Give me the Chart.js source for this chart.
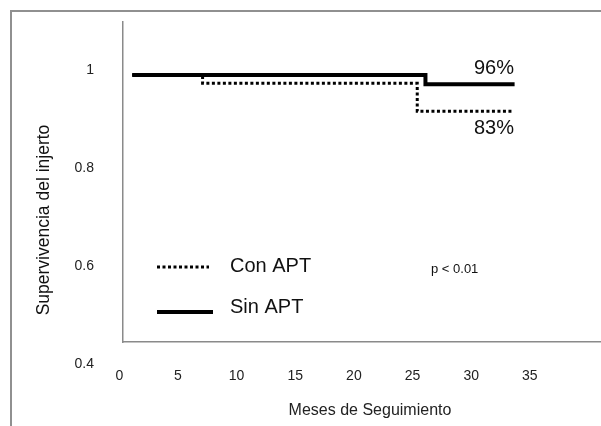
<!DOCTYPE html>
<html>
<head>
<meta charset="utf-8">
<script src="https://cdn.jsdelivr.net/npm/chart.js@4.4.1/dist/chart.umd.min.js"></script>
<style>
  html, body { margin: 0; padding: 0; background: #fff; overflow: hidden; }
  #wrap { position: relative; width: 601px; height: 426px; overflow: hidden; }
  #km { position: absolute; left: 0; top: 0; }
  #frame { position: absolute; left: 10px; top: 10px; width: 700px; height: 500px;
           border: 2px solid #909090; pointer-events: none; }
</style>
</head>
<body>
<div id="wrap">
  <canvas id="km" width="617" height="426"></canvas>
  <div id="frame"></div>
</div>
<script>
// supervivencia del injerto (Kaplan-Meier)
var sinMeses = [1.1, 26.1, 33.7];
var sinSuperv = [0.99, 0.971, 0.971];
var conMeses = [1.1, 7.1, 25.4, 33.5];
var conSuperv = [0.99, 0.973, 0.916, 0.916];

var xTicks = [0, 5, 10, 15, 20, 25, 30, 35];
var yTicks = [0.4, 0.6, 0.8, 1];

var FONT = 'Arial, "Liberation Sans", sans-serif';

function toPoints(xs, ys) {
  return xs.map(function (x, i) { return { x: x, y: ys[i] }; });
}

// textos dentro del gráfico: leyenda, porcentajes, p y título del eje y
var annotations = {
  id: 'annotations',
  afterDraw: function (chart) {
    var ctx = chart.ctx;
    var ds = chart.data.datasets;
    ctx.save();
    ctx.fillStyle = '#111';
    ctx.textBaseline = 'middle';

    // leyenda
    var rows = [{ d: ds[1], y: 267, ty: 266, x2: 209 }, { d: ds[0], y: 312, ty: 307, x2: 213 }];
    rows.forEach(function (r) {
      ctx.beginPath();
      ctx.strokeStyle = r.d.borderColor;
      ctx.lineWidth = r.d.borderWidth;
      ctx.setLineDash(r.d.borderDash || []);
      ctx.moveTo(157, r.y);
      ctx.lineTo(r.x2, r.y);
      ctx.stroke();
      ctx.setLineDash([]);
      ctx.font = '20px ' + FONT;
      ctx.textAlign = 'left';
      ctx.fillText(r.d.label, 230, r.ty);
    });

    ctx.font = '20px ' + FONT;
    ctx.textAlign = 'right';
    ctx.fillText('96%', 514, 68);
    ctx.fillText('83%', 514, 128);

    ctx.font = '13px ' + FONT;
    ctx.textAlign = 'left';
    ctx.fillText('p < 0.01', 431, 269);

    ctx.translate(44, 220);
    ctx.rotate(-Math.PI / 2);
    ctx.font = '17.5px ' + FONT;
    ctx.textAlign = 'center';
    ctx.fillText('Supervivencia del injerto', 0, 0);
    ctx.restore();
  }
};

new Chart(document.getElementById('km').getContext('2d'), {
  type: 'line',
  data: {
    datasets: [{
      label: 'Sin APT',
      data: toPoints(sinMeses, sinSuperv),
      borderColor: '#000',
      borderWidth: 4,
      stepped: true,
      pointRadius: 0,
      fill: false
    }, {
      label: 'Con APT',
      data: toPoints(conMeses, conSuperv),
      borderColor: '#000',
      borderWidth: 3,
      borderDash: [3, 2.5],
      stepped: true,
      pointRadius: 0,
      fill: false
    }]
  },
  options: {
    responsive: false,
    animation: false,
    devicePixelRatio: 1,
    layout: { padding: { top: 22, left: 0, right: 0, bottom: 0 } },
    plugins: { legend: { display: false }, tooltip: { enabled: false } },
    scales: {
      x: {
        type: 'linear',
        min: 0.315,
        max: 42.43,
        afterBuildTicks: function (s) { s.ticks = xTicks.map(function (v) { return { value: v }; }); },
        afterFit: function (s) { s.height = 84; s.paddingLeft = 0; s.paddingRight = 0; },
        grid: { display: false },
        border: { color: '#8a8a8a', width: 1.5 },
        ticks: { padding: 18, color: '#222', font: { family: FONT, size: 14 } },
        title: {
          display: true,
          text: 'Meses de Seguimiento',
          color: '#222',
          font: { family: FONT, size: 16 },
          padding: { top: 0, bottom: 6 }
        }
      },
      y: {
        min: 0.445,
        max: 1.098,
        afterBuildTicks: function (s) { s.ticks = yTicks.map(function (v) { return { value: v }; }); },
        afterFit: function (s) { s.width = 123; s.paddingTop = 0; s.paddingBottom = 0; },
        grid: { display: false },
        border: { color: '#8a8a8a', width: 1.5 },
        ticks: {
          padding: 21,
          color: '#222',
          font: { family: FONT, size: 14 },
          callback: function (v) { return v === 1 ? '1' : v.toFixed(1); }
        }
      }
    }
  },
  plugins: [annotations]
});
</script>
</body>
</html>
